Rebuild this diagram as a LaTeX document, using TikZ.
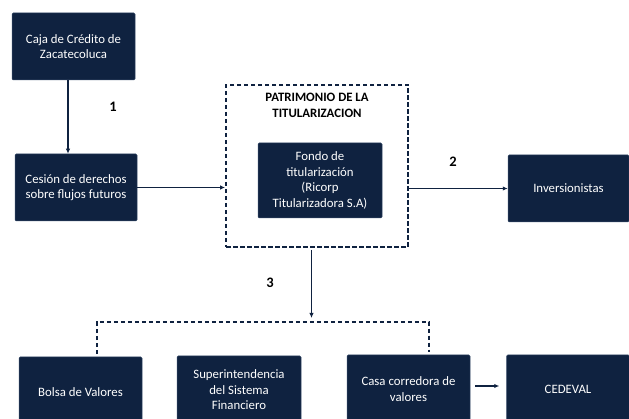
\documentclass[tikz,border=0pt]{standalone}
\usepackage{fontspec}
\setmainfont{Carlito}
\usetikzlibrary{arrows.meta}
\definecolor{navy}{RGB}{15,34,64}
\definecolor{edgec}{RGB}{55,75,105}
\begin{document}
\begin{tikzpicture}[x=1pt,y=-1pt,
  box/.style={rectangle,fill=navy,draw=edgec,line width=0.5pt,rounded corners=1.2pt,
    text=white,align=center,inner sep=2pt,
    font=\fontsize{12.8}{15.5}\selectfont},
  arr/.style={draw=navy,line width=1.1pt,-{Latex[length=5pt,width=4.5pt]}},
  dashbox/.style={draw=navy,line width=1.8pt,dash pattern=on 4.5pt off 2.5pt},
  dashline/.style={draw=navy,line width=1.3pt,dash pattern=on 4.5pt off 2.5pt},
  num/.style={font=\fontsize{14.5}{16}\selectfont\bfseries,text=black},
  title/.style={font=\fontsize{12.8}{16}\selectfont\bfseries,align=center,text=black}]
\clip (0,0) rectangle (629,419);
\fill[white] (0,0) rectangle (629,419);

% boxes
\node[box,minimum width=123pt,minimum height=67pt] (caja) at (73.5,46.5) {Caja de Crédito de\\Zacatecoluca};
\node[box,minimum width=122pt,minimum height=67pt] (cesion) at (76,187.5) {Cesión de derechos\\sobre flujos futuros};
\node[dashbox,rectangle,minimum width=182pt,minimum height=162pt,inner sep=0pt] (patr) at (317,166) {};
\node[title] (ptitle) at (317,105) {PATRIMONIO DE LA\\TITULARIZACION};
\node[box,minimum width=124pt,minimum height=75pt] (fondo) at (320,180.5) {Fondo de\\titularización\\(Ricorp\\Titularizadora S.A)};
\node[box,minimum width=121pt,minimum height=67pt] (inv) at (568.5,188.5) {Inversionistas};

\node[box,minimum width=123pt,minimum height=70pt] (bolsa) at (80.5,392) {Bolsa de Valores};
\node[box,minimum width=124pt,minimum height=68pt] (super) at (239,390) {Superintendencia\\del Sistema\\Financiero};
\node[box,minimum width=123pt,minimum height=68pt] (casa) at (408.5,389) {Casa corredora de\\valores};
\node[box,minimum width=123pt,minimum height=68pt] (cedeval) at (568,389) {CEDEVAL};

% labels
\node[num] (n1) at (113,107) {1};
\node[num] (n2) at (453,162) {2};
\node[num] (n3) at (270,283) {3};

% connectors
\draw[arr] ([xshift=-5.5pt]caja.south) -- ([xshift=-5.5pt]caja.south |- cesion.north);
\draw[arr] (cesion.east) -- (cesion.east -| patr.west);
\draw[arr] (patr.east |- inv.west) -- (inv.west);
\coordinate (br) at (311.5,322);
\coordinate (bl) at (97,322);
\coordinate (brr) at (429,322);
\draw[arr,shorten <=2pt,shorten >=4pt] (br |- patr.south) -- (br);
\draw[dashline,shorten <=2.5pt,shorten >=2.5pt] (bl |- bolsa.north) -- (bl) -- (brr) -- (brr |- casa.north);
\draw[arr,shorten <=5pt,shorten >=7pt] (casa.east |- 0,386) -- (cedeval.west |- 0,386);
\end{tikzpicture}
\end{document}
